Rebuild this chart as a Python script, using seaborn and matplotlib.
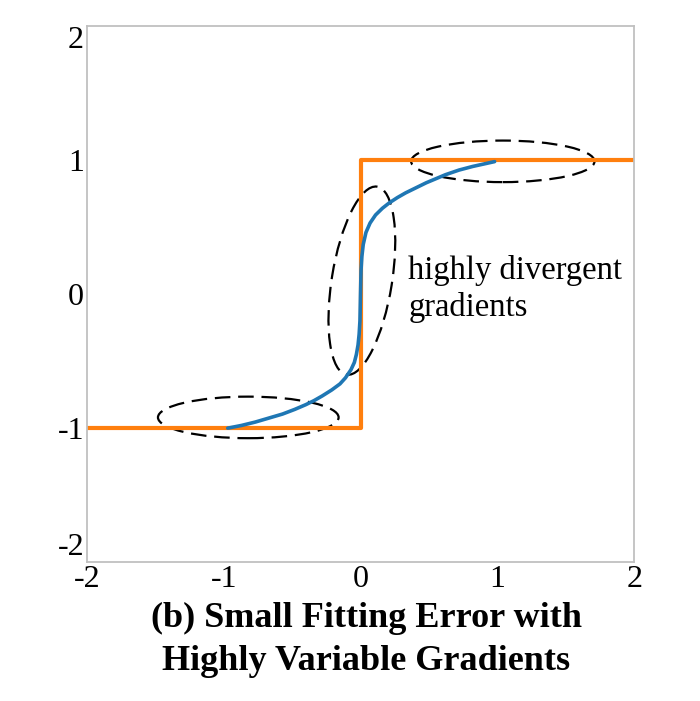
import matplotlib
matplotlib.use("Agg")
import matplotlib.pyplot as plt
from matplotlib.patches import Ellipse
import pandas as pd
import seaborn as sns

# target: ideal step function
step_x = [-2.0, 0.0, 0.0, 2.0]
step_y = [-1.0, -1.0, 1.0, 1.0]

# fitted curve
fit_x = [-0.97, -0.87, -0.77, -0.67, -0.57, -0.48, -0.40, -0.34, -0.28, -0.21,
         -0.15, -0.11, -0.07, -0.045, -0.03, -0.018, -0.01, -0.004, 0.0,
         0.004, 0.01, 0.02, 0.04, 0.07, 0.11, 0.16, 0.21, 0.27, 0.33, 0.40,
         0.48, 0.55, 0.62, 0.72, 0.82, 0.90, 0.98]
fit_y = [-1.0, -0.98, -0.955, -0.925, -0.895, -0.86, -0.825, -0.795, -0.76, -0.715,
         -0.67, -0.625, -0.565, -0.51, -0.45, -0.38, -0.30, -0.20, 0.0,
         0.18, 0.28, 0.37, 0.46, 0.53, 0.59, 0.64, 0.68, 0.72, 0.755, 0.79,
         0.83, 0.86, 0.89, 0.925, 0.952, 0.97, 0.988]

ticks = [-2, -1, 0, 1, 2]
tick_labels = ["-2", "-1", "0", "1", "2"]

# dashed ellipses: (center x, center y, width, height, angle)
ellipses = [(-0.82, -0.92, 1.32, 0.31, 0),
            (0.01, 0.10, 0.44, 1.42, -9),
            (1.04, 0.99, 1.34, 0.31, 0)]

sns.set_style("white")
plt.rcParams["font.family"] = ["Liberation Serif", "DejaVu Serif"]
plt.rcParams["text.color"] = "black"
plt.rcParams["xtick.color"] = "black"
plt.rcParams["ytick.color"] = "black"

step_df = pd.DataFrame({"x": step_x, "y": step_y})
fit_df = pd.DataFrame({"x": fit_x, "y": fit_y})

fig = plt.figure(figsize=(7, 7.01), dpi=100)
ax = fig.add_axes([0.124, 0.198, 0.782, 0.765])

sns.lineplot(data=step_df, x="x", y="y", sort=False, estimator=None,
             color="#ff7f0e", linewidth=3, ax=ax)
sns.lineplot(data=fit_df, x="x", y="y", sort=False, estimator=None,
             color="#1f77b4", linewidth=2.6, ax=ax,
             solid_joinstyle="round", solid_capstyle="round")

for cx, cy, w, h, ang in ellipses:
    ax.add_patch(Ellipse((cx, cy), w, h, angle=ang, fill=False,
                         edgecolor="black", linewidth=1.6,
                         linestyle=(0, (7, 3.5))))

ax.text(0.35, -0.16, "highly divergent\ngradients", fontsize=23.5,
        va="baseline", ha="left", linespacing=1.25, color="black")

ax.set_xlim(-2, 2)
ax.set_ylim(-2, 2)
ax.set_xticks(ticks)
ax.set_xticklabels(tick_labels)
ax.set_yticks(ticks)
ax.set_yticklabels(tick_labels)
ax.tick_params(length=0, labelsize=23, pad=2, labelcolor="black")
ax.set_xlabel("")
ax.set_ylabel("")

ylabs = ax.get_yticklabels()
ylabs[0].set_va("bottom")
ylabs[-1].set_va("top")

for s in ax.spines.values():
    s.set_color("#c0c0c0")
    s.set_linewidth(1.3)

fig.text(0.523, 1 - 627 / 701, "(b) Small Fitting Error with", color="black",
         ha="center", va="baseline", fontsize=26, fontweight="bold")
fig.text(0.523, 1 - 670 / 701, "Highly Variable Gradients", color="black",
         ha="center", va="baseline", fontsize=26, fontweight="bold")

fig.savefig("out.png", dpi=100)
